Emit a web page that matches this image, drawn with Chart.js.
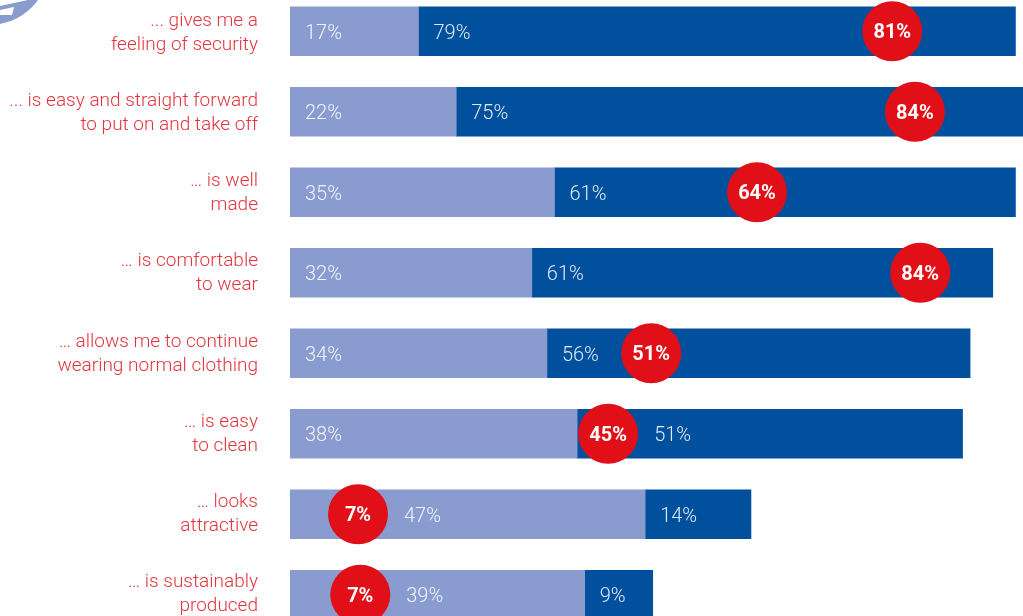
<!DOCTYPE html>
<html>
<head>
<meta charset="utf-8">
<script src="https://cdn.jsdelivr.net/npm/chart.js@4"></script>
<style>
html,body{margin:0;padding:0;background:#fff;overflow:hidden;width:1023px;height:616px}
#wrap{position:absolute;left:0;top:0;width:1023px;height:616px;overflow:hidden}
#c{position:absolute;left:0;top:-9px}
</style>
</head>
<body>
<div id="wrap"><canvas id="c" width="1023" height="644" style="width:1023px;height:644px"></canvas></div>
<script>
const categories = [
  ['... gives me a', 'feeling of security'],
  ['... is easy and straight forward', 'to put on and take off'],
  ['… is well', 'made'],
  ['… is comfortable', 'to wear'],
  ['… allows me to continue', 'wearing normal clothing'],
  ['… is easy', 'to clean'],
  ['… looks', 'attractive'],
  ['… is sustainably', 'produced']
];
const lightValues = [17, 22, 35, 32, 34, 38, 47, 39];
const darkValues  = [79, 75, 61, 61, 56, 51, 14, 9];
const redValues   = [81, 84, 64, 84, 51, 45, 7, 7];
const redMarkerAt = [79.7, 82.7, 61.8, 83.4, 47.8, 42.1, 9.0, 9.3];

const LIGHT = '#8a9bcf', DARK = '#00509e', RED = '#e10f17', TEXTRED = '#e3343c';
const FONT = 'Roboto, "Open Sans", sans-serif';

const labelPlugin = {
  id: 'labels',
  beforeDraw(chart) {
    // nudge the category labels to the reference's baselines (their rhythm is slightly tighter than the bars')
    const s = chart.scales.y;
    s.getLabelItems(chart.chartArea).forEach((item, i) => { item.options.translation[1] += 2 - i * 0.35; });
  },
  beforeDatasetsDraw(chart) {
    // decorative icon fragment in the corner
    const c = chart.ctx;
    c.save();
    c.fillStyle = LIGHT;
    c.beginPath(); c.arc(-10, -34 + 9, 58.8, 0, Math.PI * 2); c.fill();
    c.fillStyle = '#fff';
    c.beginPath(); c.moveTo(0, 9); c.lineTo(28, 9); c.lineTo(0, 9 + 6); c.closePath(); c.fill();
    c.beginPath(); c.moveTo(0, 9 + 10); c.lineTo(14, 9 + 7); c.lineTo(12, 9 + 15); c.lineTo(0, 9 + 15); c.closePath(); c.fill();
    c.restore();
  },
  afterDatasetsDraw(chart) {
    const c = chart.ctx;
    const lm = chart.getDatasetMeta(0).data, dm = chart.getDatasetMeta(1).data, rm = chart.getDatasetMeta(2).data;
    c.save();
    c.textBaseline = 'middle';
    c.textAlign = 'left';
    c.font = '300 20px ' + FONT;
    c.fillStyle = 'rgba(255,255,255,0.88)';
    const place = (txt, left, r) => {
      const w = c.measureText(txt).width;
      let x = left + 15;
      if (x < r.x + 30 && x + w > r.x - 30) x = r.x + 30 + 16;
      c.fillText(txt, x, r.y + 2.5);
    };
    lm.forEach((b, i) => place(lightValues[i] + '%', chart.scales.x.getPixelForValue(0), rm[i]));
    dm.forEach((b, i) => place(darkValues[i] + '%', lm[i].x, rm[i]));
    c.font = '700 20px ' + FONT;
    c.fillStyle = '#fff';
    c.textAlign = 'center';
    rm.forEach((r, i) => c.fillText(redValues[i] + '%', r.x, r.y + 2));
    c.restore();
  }
};

new Chart(document.getElementById('c'), {
  data: {
    labels: categories,
    datasets: [
      { type: 'bar', indexAxis: 'y', label: 'Light', data: lightValues, backgroundColor: LIGHT, xAxisID: 'x', yAxisID: 'y', barThickness: 49, order: 2 },
      { type: 'bar', indexAxis: 'y', label: 'Dark', data: darkValues, backgroundColor: DARK, xAxisID: 'x', yAxisID: 'y', barThickness: 49, order: 2 },
      { type: 'scatter', label: 'Red', data: redMarkerAt.map((v, i) => ({ x: v, y: i })), backgroundColor: RED, borderWidth: 0, pointRadius: 30, pointHoverRadius: 30, xAxisID: 'x2', yAxisID: 'y', clip: false, order: 1 }
    ]
  },
  options: {
    indexAxis: 'y',
    responsive: false,
    animation: false,
    layout: { padding: 0, autoPadding: false },
    plugins: { legend: { display: false }, tooltip: { enabled: false } },
    scales: {
      x: { stacked: true, min: 0, max: 97, display: false, grid: { display: false } },
      x2: { type: 'linear', min: 0, max: 97, display: false, grid: { display: false } },
      y: {
        type: 'category', stacked: true, position: 'left',
        border: { display: false },
        grid: { display: false, drawTicks: false },
        afterFit(s) { s.width = 290; s.paddingTop = 0; s.paddingBottom = 0; },
        ticks: {
          color: TEXTRED, padding: 32, autoSkip: false,
          font: { family: FONT, size: 19, weight: '300', lineHeight: 1.263 }
        }
      }
    }
  },
  plugins: [labelPlugin]
});
</script>
</body>
</html>
